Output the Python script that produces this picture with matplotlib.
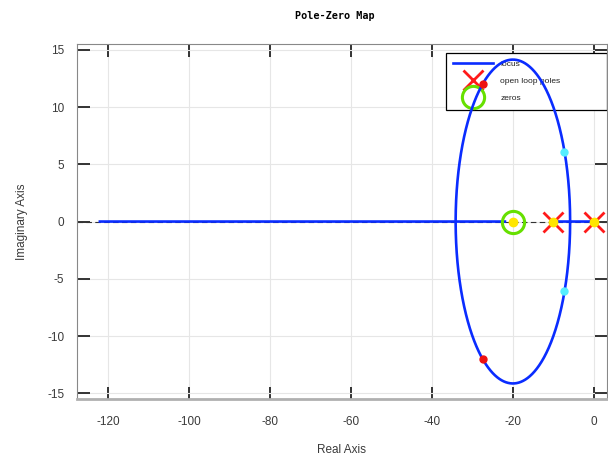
import numpy as np
import matplotlib
matplotlib.use("Agg")
import matplotlib.pyplot as plt

# open loop system K (s + 20) / (s (s + 10))
poles = [0.0, -10.0]
zeros = [-20.0]
k_max = 134.0          # gain where the far branch reaches about -122
n_gains = 20000

# highlighted closed loop points
pts_red_re = [-27.5, -27.5]
pts_red_im = [12.0, -12.0]
pts_cyan_re = [-7.3, -7.3]
pts_cyan_im = [6.1, -6.1]

xticks = [-120, -100, -80, -60, -40, -20, 0]
yticks = [-15, -10, -5, 0, 5, 10, 15]

# ------------------------------------------------------------
# root locus: roots of den + K * num for a sweep of gains
# ------------------------------------------------------------
num = np.poly(zeros)
den = np.poly(poles)
# break points: K where the discriminant of den + K*num is zero
brk = np.roots([1, -60, 100]).real
gains = np.sort(np.concatenate([np.linspace(0, k_max, n_gains), brk]))
br_a, br_b = [], []
for k in gains:
    p = den.copy()
    p[-len(num):] += k * num
    r = np.roots(p)
    # branch a : positive imag / larger real part
    r = sorted(r, key=lambda z: (round(z.imag, 6), z.real), reverse=True)
    br_a.append(r[0])
    br_b.append(r[1])
br_a = np.array(br_a)
br_b = np.array(br_b)

fig = plt.figure(figsize=(6.08, 4.59), dpi=100)
ax = fig.add_axes([0.1266, 0.1307, 0.8714, 0.7733])

plt.rcParams['font.family'] = ['Liberation Sans', 'DejaVu Sans']
lab_font = dict(family='Liberation Sans', size=8.5, color='#3a3a3a')

ax.axhline(0, color='#333333', lw=0.8, ls=(0, (5, 3)), zorder=1.6)
ax.plot(br_a.real, br_a.imag, color='#0a2cff', lw=1.9, zorder=3, label='locus')
ax.plot(br_b.real, br_b.imag, color='#0a2cff', lw=1.9, zorder=3)

ax.plot(poles, [0] * len(poles), 'x', color='#ff1a1a', ms=14, mew=2,
        zorder=4, label='open loop poles')
ax.plot(zeros, [0] * len(zeros), 'o', mfc='none', mec='#66e000', ms=16,
        mew=2.2, zorder=4, label='zeros')
ax.plot(poles + zeros, [0] * 3, 'o', color='#ffe600', ms=6, zorder=5)

ax.plot(pts_red_re, pts_red_im, 'o', color='#ee1111', ms=5, zorder=5)
ax.plot(pts_cyan_re, pts_cyan_im, 'o', color='#55eeff', ms=5, zorder=5)

ax.set_xlim(-127.7, 3.2)
ax.set_ylim(-15.5, 15.5)
ax.set_xticks(xticks)
ax.set_yticks(yticks)
ax.set_xticklabels([str(t) for t in xticks], **lab_font)
ax.set_yticklabels([str(t) for t in yticks], **lab_font)
ax.tick_params(direction='in', length=9, width=1.4, color='#333333',
               top=True, right=True, pad=9)
ax.tick_params(axis='x', pad=12)
ax.grid(True, color='#e6e6e6', lw=0.8)

for s in ['left', 'top', 'right']:
    ax.spines[s].set_color('#888888')
    ax.spines[s].set_linewidth(0.8)
ax.spines['bottom'].set_color('#b0b0b0')
ax.spines['bottom'].set_linewidth(2)

ax.set_xlabel('Real Axis', labelpad=12, **lab_font)
ax.set_ylabel('Imaginary Axis', labelpad=14, **lab_font)
fig.text(0.551, 0.966, 'Pole-Zero Map', ha='center', va='center',
         family='DejaVu Sans Mono', weight='bold', size=7.3)

leg = ax.legend(loc='upper left', bbox_to_anchor=(0.696, 0.825, 0.304, 0.15),
                mode='expand', borderaxespad=0, fancybox=False, framealpha=1,
                edgecolor='black', fontsize=6, handlelength=4.8,
                labelspacing=1.1, borderpad=0.9, handletextpad=0.85)
leg.get_frame().set_linewidth(0.9)
leg.set_zorder(1.8)
for t in leg.get_texts():
    t.set_color('#222222')

fig.savefig('out.png', dpi=100)
